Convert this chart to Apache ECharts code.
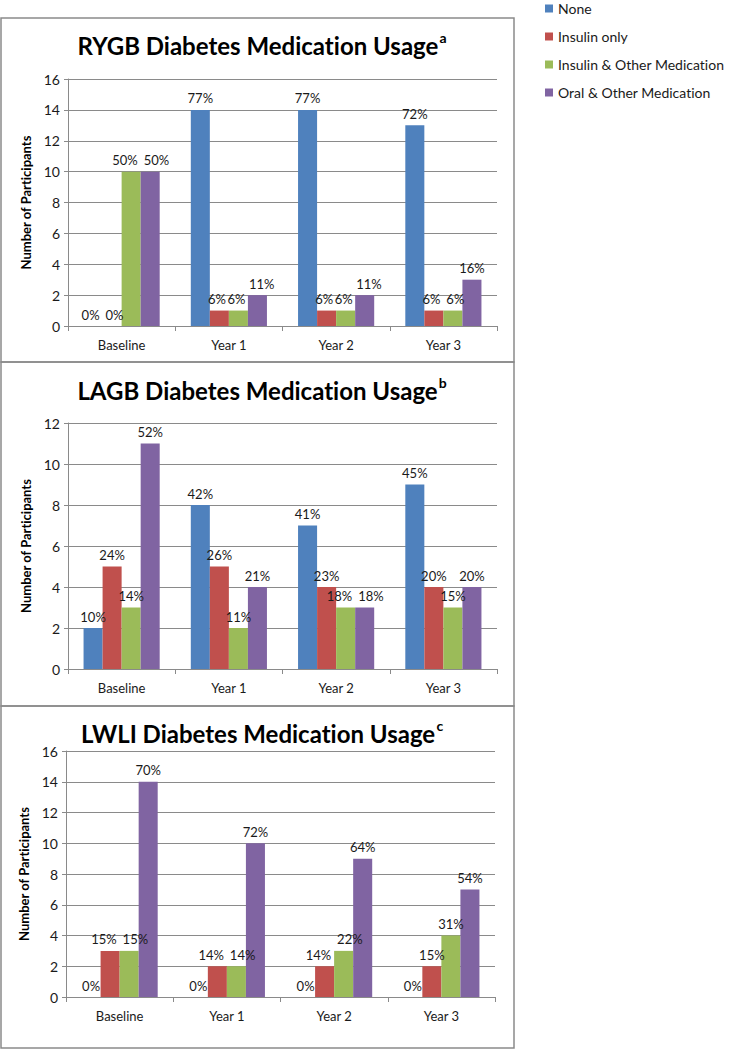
<!DOCTYPE html>
<html>
<head>
<meta charset="utf-8">
<script src="https://cdn.jsdelivr.net/npm/echarts@6/dist/echarts.min.js"></script>
<style>
html,body{margin:0;padding:0;background:#fff;}
#c{width:734px;height:1050px;font-variant-ligatures:none;}
#c text{font-variant-ligatures:none;}
</style>
</head>
<body>
<div id="c"></div>
<script>
// ---------- DATA ----------
const categories = ['Baseline', 'Year 1', 'Year 2', 'Year 3'];
const seriesNames = ['None', 'Insulin only', 'Insulin & Other Medication', 'Oral & Other Medication'];
const colors = ['#4F81BD', '#C0504D', '#9BBB59', '#8064A2'];

const rygbTitle = 'RYGB Diabetes Medication Usage';
const rygbSup = 'a';
const rygbNone = [0, 14, 14, 13];
const rygbInsulin = [0, 1, 1, 1];
const rygbInsulinOther = [10, 1, 1, 1];
const rygbOral = [10, 2, 2, 3];
const rygbNonePct = ['0%', '77%', '77%', '72%'];
const rygbInsulinPct = ['0%', '6%', '6%', '6%'];
const rygbInsulinOtherPct = ['50%', '6%', '6%', '6%'];
const rygbOralPct = ['50%', '11%', '11%', '16%'];
const rygbMax = 16;

const lagbTitle = 'LAGB Diabetes Medication Usage';
const lagbSup = 'b';
const lagbNone = [2, 8, 7, 9];
const lagbInsulin = [5, 5, 4, 4];
const lagbInsulinOther = [3, 2, 3, 3];
const lagbOral = [11, 4, 3, 4];
const lagbNonePct = ['10%', '42%', '41%', '45%'];
const lagbInsulinPct = ['24%', '26%', '23%', '20%'];
const lagbInsulinOtherPct = ['14%', '11%', '18%', '15%'];
const lagbOralPct = ['52%', '21%', '18%', '20%'];
const lagbMax = 12;

const lwliTitle = 'LWLI Diabetes Medication Usage';
const lwliSup = 'c';
const lwliNone = [0, 0, 0, 0];
const lwliInsulin = [3, 2, 2, 2];
const lwliInsulinOther = [3, 2, 3, 4];
const lwliOral = [14, 10, 9, 7];
const lwliNonePct = ['0%', '0%', '0%', '0%'];
const lwliInsulinPct = ['15%', '14%', '14%', '15%'];
const lwliInsulinOtherPct = ['15%', '14%', '22%', '31%'];
const lwliOralPct = ['70%', '72%', '64%', '54%'];
const lwliMax = 16;

const yAxisName = 'Number of Participants';

// ---------- LAYOUT ----------
const FONT = 'Lato, "Open Sans", sans-serif';
const LABEL_SIZE = 13;
const panels = [
  { title: rygbTitle, sup: rygbSup, values: [rygbNone, rygbInsulin, rygbInsulinOther, rygbOral],
    pct: [rygbNonePct, rygbInsulinPct, rygbInsulinOtherPct, rygbOralPct], max: rygbMax,
    box: [1, 18, 513, 344], grid: { left: 68, top: 79, width: 429, height: 247 }, titleY: 25 },
  { title: lagbTitle, sup: lagbSup, values: [lagbNone, lagbInsulin, lagbInsulinOther, lagbOral],
    pct: [lagbNonePct, lagbInsulinPct, lagbInsulinOtherPct, lagbOralPct], max: lagbMax,
    box: [1, 362, 513, 344], grid: { left: 68, top: 423, width: 429, height: 246 }, titleY: 370 },
  { title: lwliTitle, sup: lwliSup, values: [lwliNone, lwliInsulin, lwliInsulinOther, lwliOral],
    pct: [lwliNonePct, lwliInsulinPct, lwliInsulinOtherPct, lwliOralPct], max: lwliMax,
    box: [1, 706, 513, 342], grid: { left: 66, top: 751, width: 429, height: 246 }, titleY: 713 }
];
const BAR_CAT_GAP = 0.29;

// text measuring for label overlap avoidance (like Excel nudging adjacent labels apart)
const mctx = document.createElement('canvas').getContext('2d');
mctx.font = LABEL_SIZE + 'px ' + FONT;
const tw = (s) => mctx.measureText(s).width;

function labelShift(p, si, di) {
  const ppu = p.grid.height / p.max;
  const barW = p.grid.width / categories.length * (1 - BAR_CAT_GAP) / seriesNames.length;
  const v = p.values, t = p.pct;
  let dx = 0;
  const pairOverlap = (a, b) => {
    if (Math.abs(v[a][di] - v[b][di]) * ppu >= LABEL_SIZE + 3) return 0;
    const need = (tw(t[a][di]) + tw(t[b][di])) / 2 + 6;
    return Math.max(0, need - barW);
  };
  if (si > 0) dx += pairOverlap(si - 1, si) / 2;
  if (si < seriesNames.length - 1) dx -= pairOverlap(si, si + 1) / 2;
  return dx;
}

const option = {
  animation: false,
  backgroundColor: '#fff',
  color: colors,
  title: [],
  grid: [],
  xAxis: [],
  yAxis: [],
  series: [],
  graphic: [],
  legend: {
    orient: 'vertical',
    left: 540,
    top: -4,
    itemWidth: 8,
    itemHeight: 8,
    itemGap: 13,
    icon: 'rect',
    data: seriesNames,
    textStyle: { fontFamily: FONT, fontSize: 14, color: '#1a1a1a', lineHeight: 15 }
  }
};

panels.forEach((p, gi) => {
  option.graphic.push({
    type: 'rect', shape: { x: p.box[0], y: p.box[1], width: p.box[2], height: p.box[3] },
    style: { fill: 'none', stroke: '#8a8a8a', lineWidth: 1.5 }, z: 0
  });
  option.title.push({
    text: '{t|' + p.title + '}{s|' + p.sup + '}',
    left: 257, top: p.titleY, textAlign: 'center',
    textStyle: {
      rich: {
        t: { fontFamily: FONT, fontSize: 24, fontWeight: 'bold', color: '#000', lineHeight: 30 },
        s: { fontFamily: FONT, fontSize: 14, fontWeight: 'bold', color: '#000', verticalAlign: 'top', lineHeight: 30, padding: [0, 0, 8, 1] }
      }
    }
  });
  option.grid.push(Object.assign({}, p.grid, { containLabel: false }));
  option.xAxis.push({
    type: 'category', gridIndex: gi, data: categories,
    axisLine: { lineStyle: { color: '#8a8a8a', width: 1 } },
    axisTick: { show: true, length: 5, lineStyle: { color: '#8a8a8a' } },
    axisLabel: { fontFamily: FONT, fontSize: 13, color: '#1a1a1a', margin: 12 }
  });
  option.yAxis.push({
    type: 'value', gridIndex: gi, min: 0, max: p.max, interval: 2,
    name: yAxisName, nameLocation: 'middle', nameGap: 35,
    nameTextStyle: { fontFamily: FONT, fontSize: 13, fontWeight: 'bold', color: '#000' },
    axisLine: { show: true, lineStyle: { color: '#8a8a8a', width: 1 } },
    axisTick: { show: true, length: 4, lineStyle: { color: '#8a8a8a' } },
    axisLabel: { fontFamily: FONT, fontSize: 14, color: '#1a1a1a', margin: 8 },
    splitLine: { show: true, lineStyle: { color: '#8a8a8a', width: 1 } }
  });
  seriesNames.forEach((name, si) => {
    const pctArr = p.pct[si];
    option.series.push({
      type: 'bar', name: name, xAxisIndex: gi, yAxisIndex: gi,
      data: p.values[si],
      barGap: '0%', barCategoryGap: (BAR_CAT_GAP * 100) + '%',
      itemStyle: { color: colors[si] },
      label: {
        show: true, position: 'top', distance: 5,
        fontFamily: FONT, fontSize: LABEL_SIZE, color: '#1a1a1a',
        formatter: (d) => pctArr[d.dataIndex]
      },
      labelLayout: (params) => ({ dx: labelShift(p, si, params.dataIndex) })
    });
  });
});

const chart = echarts.init(document.getElementById('c'), null, { renderer: 'svg' });
chart.setOption(option);
</script>
</body>
</html>
